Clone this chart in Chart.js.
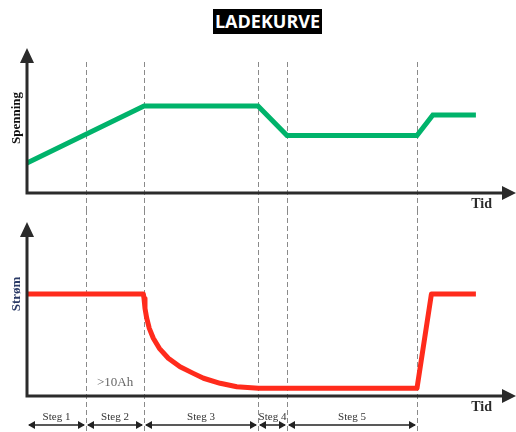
<!DOCTYPE html>
<html>
<head>
<meta charset="utf-8">
<script src="https://cdn.jsdelivr.net/npm/chart.js@4.4.1/dist/chart.umd.min.js"></script>
<style>
  body { margin: 0; background: #fff; }
  #wrap { position: relative; width: 516px; height: 432px; }
  #title {
    position: absolute; left: 213px; top: 9px; width: 109px; height: 25px;
    background: #000; color: #fff; font: bold 18px "Open Sans", sans-serif;
    text-align: center; line-height: 25px;
  }
  #top { position: absolute; left: 0; top: 0; }
  #bottom { position: absolute; left: 0; top: 210px; }
</style>
</head>
<body>
<div id="wrap">
  <canvas id="top" width="516" height="210"></canvas>
  <canvas id="bottom" width="516" height="222"></canvas>
  <div id="title">LADEKURVE</div>
</div>
<script>
// time axis 0..100, stage borders
const stageEdges = [0, 12.07, 23.93, 47.24, 53.17, 79.75];
const stageLabels = ["Steg 1", "Steg 2", "Steg 3", "Steg 4", "Steg 5"];

// voltage curve (Spenning)
const voltX = [0, 23.93, 47.24, 53.17, 79.75, 83.0, 91.8];
const voltY = [20.7, 60.0, 60.0, 39.7, 39.7, 53.8, 53.8];

// current curve (Strøm)
const currX = [0, 23.8, 23.93, 24.13, 24.48, 25.01, 25.83, 27.06, 28.9, 31.29, 34.01, 36.1, 39.5, 42.9, 47.3, 79.75, 82.7, 91.8];
const currY = [58.6, 58.6, 56.1, 50.4, 44.7, 38.9, 33.2, 27.4, 21.7, 16.8, 13.0, 10.2, 7.3, 5.3, 4.4, 4.4, 58.6, 58.6];

function points(xs, ys) {
  return xs.map((x, i) => ({ x: x, y: ys[i] }));
}

const axisColor = "#2b2b2b";

function arrowHead(ctx, x, y, dir) {
  ctx.beginPath();
  if (dir === "up") {
    ctx.moveTo(x, y); ctx.lineTo(x - 7, y + 15); ctx.lineTo(x + 7, y + 15);
  } else if (dir === "right") {
    ctx.moveTo(x, y); ctx.lineTo(x - 14, y - 7); ctx.lineTo(x - 14, y + 7);
  }
  ctx.closePath();
  ctx.fill();
}

function smallArrow(ctx, x1, x2, y) {
  ctx.beginPath();
  ctx.moveTo(x1 + 2, y); ctx.lineTo(x2 - 2, y);
  ctx.stroke();
  ctx.beginPath();
  ctx.moveTo(x1 + 1, y); ctx.lineTo(x1 + 8, y - 4); ctx.lineTo(x1 + 8, y + 4); ctx.closePath();
  ctx.fill();
  ctx.beginPath();
  ctx.moveTo(x2 - 1, y); ctx.lineTo(x2 - 8, y - 4); ctx.lineTo(x2 - 8, y + 4); ctx.closePath();
  ctx.fill();
}

const dashPlugin = {
  id: "dashes",
  beforeDatasetsDraw(chart, args, opts) {
    const ctx = chart.ctx, x = chart.scales.x;
    ctx.save();
    ctx.strokeStyle = "#8a8a8a";
    ctx.lineWidth = 1;
    ctx.setLineDash([5, 3]);
    stageEdges.slice(1).forEach(v => {
      const px = Math.round(x.getPixelForValue(v)) + 0.5;
      ctx.beginPath();
      ctx.moveTo(px, opts.from);
      ctx.lineTo(px, chart.height);
      ctx.stroke();
    });
    ctx.restore();
  }
};

const axesPlugin = {
  id: "axes",
  afterDatasetsDraw(chart, args, opts) {
    const ctx = chart.ctx, a = chart.chartArea;
    ctx.save();
    ctx.strokeStyle = axisColor;
    ctx.fillStyle = axisColor;
    ctx.lineWidth = 3;
    ctx.beginPath();
    ctx.moveTo(a.left, a.top + 10);
    ctx.lineTo(a.left, a.bottom);
    ctx.lineTo(a.right - 10, a.bottom);
    ctx.stroke();
    arrowHead(ctx, a.left, a.top, "up");
    arrowHead(ctx, a.right, a.bottom, "right");

    ctx.font = "bold 14px 'Liberation Serif', serif";
    ctx.textAlign = "right";
    ctx.textBaseline = "middle";
    ctx.fillText("Tid", 492, a.bottom + 11);

    ctx.save();
    ctx.translate(17, opts.labelY);
    ctx.rotate(-Math.PI / 2);
    ctx.textAlign = "center";
    ctx.fillStyle = opts.labelColor;
    ctx.font = "bold 13px 'Liberation Serif', serif";
    ctx.fillText(opts.label, 0, 0);
    ctx.restore();
    ctx.restore();
  }
};

const stagePlugin = {
  id: "stages",
  afterDraw(chart) {
    const ctx = chart.ctx, x = chart.scales.x, a = chart.chartArea;
    ctx.save();
    ctx.strokeStyle = "#222";
    ctx.fillStyle = "#222";
    ctx.lineWidth = 1.5;
    const y = a.bottom + 29;
    ctx.font = "11px 'Liberation Serif', serif";
    ctx.textAlign = "center";
    ctx.textBaseline = "middle";
    for (let i = 0; i < stageLabels.length; i++) {
      const x1 = x.getPixelForValue(stageEdges[i]);
      const x2 = x.getPixelForValue(stageEdges[i + 1]);
      smallArrow(ctx, x1, x2, y);
      ctx.fillStyle = "#333";
      ctx.fillText(stageLabels[i], (x1 + x2) / 2, a.bottom + 21);
      ctx.fillStyle = "#222";
    }
    ctx.fillStyle = "#666";
    ctx.font = "13px 'Liberation Serif', serif";
    ctx.fillText(">10Ah", x.getPixelForValue(18.0), a.bottom - 13);
    ctx.restore();
  }
};

function makeOptions(pad, axisOpts, dashFrom) {
  return {
    responsive: false,
    animation: false,
    layout: { padding: pad },
    plugins: {
      legend: { display: false },
      tooltip: { enabled: false },
      axes: axisOpts,
      dashes: { from: dashFrom }
    },
    scales: {
      x: { type: "linear", min: 0, max: 100, display: false },
      y: { min: 0, max: 100, display: false }
    }
  };
}

new Chart(document.getElementById("top"), {
  type: "line",
  data: {
    datasets: [{
      data: points(voltX, voltY),
      borderColor: "#00b36b",
      borderWidth: 5,
      pointRadius: 0,
      tension: 0,
      clip: false
    }]
  },
  options: makeOptions({ left: 27, right: 0, top: 48, bottom: 17 },
    { label: "Spenning", labelY: 118, labelColor: "#111" }, 62),
  plugins: [dashPlugin, axesPlugin]
});

new Chart(document.getElementById("bottom"), {
  type: "line",
  data: {
    datasets: [{
      data: points(currX, currY),
      borderColor: "#ff2b1c",
      borderWidth: 5,
      borderJoinStyle: "round",
      pointRadius: 0,
      tension: 0,
      clip: false
    }]
  },
  options: makeOptions({ left: 27, right: 0, top: 12, bottom: 36 },
    { label: "Strøm", labelY: 84, labelColor: "#2a3a66" }, 0),
  plugins: [dashPlugin, axesPlugin, stagePlugin]
});
</script>
</body>
</html>
